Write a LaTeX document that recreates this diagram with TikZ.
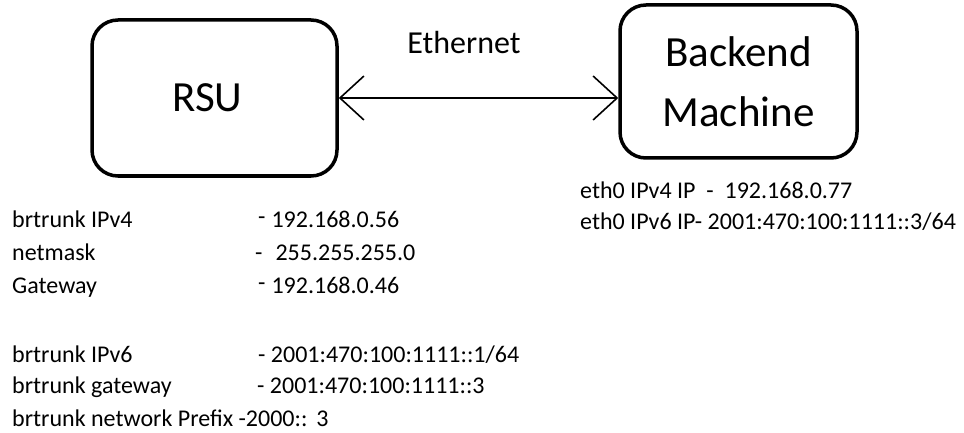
\documentclass[tikz,border=0pt]{standalone}
\usepackage{fontspec}
\setmainfont{Carlito}
\usetikzlibrary{arrows.meta}
\begin{document}
\begin{tikzpicture}[x=1pt,y=-1pt,
  box/.style={draw, line width=3.5pt, rounded corners=26pt, inner sep=0pt, align=center},
  big/.style={font=\fontsize{43}{60}\selectfont},
  info/.style={anchor=base west, inner sep=0pt, font=\fontsize{24}{29}\selectfont},
  barb/.tip={Straight Barb[length=24pt,width=44pt]},
  link/.style={line width=1.6pt, barb-barb}]
  \useasboundingbox (0,0) rectangle (964,433);

  % the two machines
  \node[box, big, minimum width=245pt, minimum height=156pt] (rsu) at (214.5,98) {RSU\hspace{14pt}};
  \node[box, big, minimum width=237pt, minimum height=153pt] (backend) at (738.5,81.5) {Backend\\Machine};

  % ethernet link between them
  \draw[link] (rsu.east) -- (rsu.east -| backend.west);
  \node[anchor=base, inner sep=0pt, font=\fontsize{32}{38}\selectfont] (eth) at (464,54) {Ethernet};

  % RSU settings
  \node[info] (k1) at (12,227) {brtrunk IPv4};
  \node[info] (v1) at (258,227) {\raisebox{3pt}{-}\hspace{6pt}192.168.0.56};
  \node[info] (k2) at (12,260) {netmask};
  \node[info] (v2) at (255,260) {-\hspace{13pt}255.255.255.0};
  \node[info] (k3) at (12,293) {Gateway};
  \node[info] (v3) at (258,293) {\raisebox{3pt}{-}\hspace{6pt}192.168.0.46};

  \node[info] (k4) at (12,362) {brtrunk IPv6};
  \node[info] (v4) at (258,362) {- 2001:470:100:1111::1/64};
  \node[info] (k5) at (12,393) {brtrunk gateway};
  \node[info] (v5) at (257,393) {- 2001:470:100:1111::3};
  \node[info] (k6) at (12,426) {brtrunk network Prefix -2000::\hspace{9pt}3};

  % backend settings
  \node[info] (e1) at (580,198) {eth0 IPv4 IP~~-~~192.168.0.77};
  \node[info] (e2) at (580,229) {eth0 IPv6 IP- 2001:470:100:1111::3/64};
\end{tikzpicture}
\end{document}
